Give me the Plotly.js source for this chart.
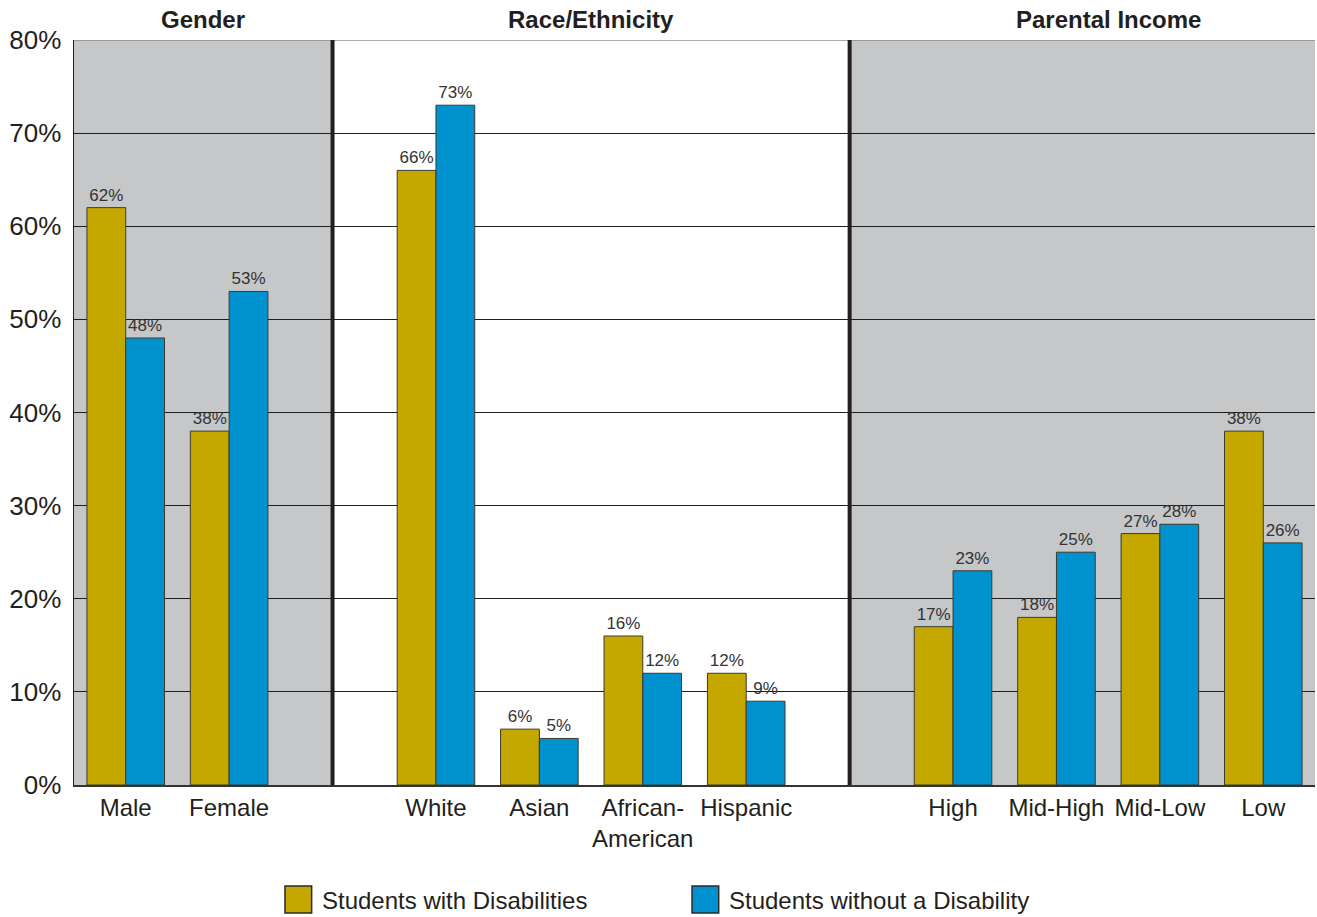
<!DOCTYPE html>
<html>
<head>
<meta charset="utf-8">
<script src="https://cdn.plot.ly/plotly-3.0.1.min.js"></script>
<style>
  html, body { margin: 0; padding: 0; background: #ffffff; }
  #chart { width: 1317px; height: 917px; }
</style>
</head>
<body>
<div id="chart"></div>
<script>
// Category slots along the x axis; empty slots (2 and 7) separate the three groups.
const categorySlots = [0, 1, 3, 4, 5, 6, 8, 9, 10, 11];
const categoryLabels = ['Male', 'Female', 'White', 'Asian', 'African-<br>American', 'Hispanic',
                        'High', 'Mid-High', 'Mid-Low', 'Low'];

// Percent of students in each category
const withDisabilities    = [62, 38, 66, 6, 16, 12, 17, 18, 27, 38];
const withoutDisability   = [48, 53, 73, 5, 12, 9, 23, 25, 28, 26];

const seriesNames = ['Students with Disabilities', 'Students without a Disability'];

// Group headings and their centre positions on the x axis
const groupTitles = ['Gender', 'Race/Ethnicity', 'Parental Income'];
const groupTitleX = [0.75, 4.5, 9.5];

// Shaded group panels and dividers (x-axis units)
const shadedPanels = [[-0.5, 2], [7, 11.5]];
const dividers = [2, 7];

const GOLD = '#C4A800';
const BLUE = '#0092CE';
const PANEL = '#C6C7C9';
const FONT = 'Liberation Sans, Arial, Helvetica, sans-serif';

function barTrace(name, values, color) {
  return {
    type: 'bar',
    name: name,
    x: categorySlots,
    y: values,
    marker: { color: color, line: { color: '#3b3a2c', width: 1 } },
    text: values.map(v => v + '%'),
    textposition: 'outside',
    textfont: { family: FONT, size: 17, color: '#333333' },
    constraintext: 'none',
    cliponaxis: false,
    hoverinfo: 'skip'
  };
}

const traces = [
  barTrace(seriesNames[0], withDisabilities, GOLD),
  barTrace(seriesNames[1], withoutDisability, BLUE)
];

const shapes = [];
shadedPanels.forEach(([x0, x1]) => {
  shapes.push({
    type: 'rect', layer: 'below', xref: 'x', yref: 'y',
    x0: x0, x1: x1, y0: 0, y1: 80,
    fillcolor: PANEL, line: { width: 0 }
  });
});
// top frame line
shapes.push({
  type: 'line', layer: 'above', xref: 'paper', yref: 'y',
  x0: 0, x1: 1, y0: 80, y1: 80,
  line: { color: '#8c8c8c', width: 1.5 }
});
dividers.forEach(x => {
  shapes.push({
    type: 'line', layer: 'above', xref: 'x', yref: 'y',
    x0: x, x1: x, y0: 0, y1: 80,
    line: { color: '#231F20', width: 4 }
  });
});

// Legend swatches drawn below the plot area
const legendItems = [
  { name: seriesNames[0], color: GOLD, x0: 0.170, x1: 0.1915, tx: 0.198 },
  { name: seriesNames[1], color: BLUE, x0: 0.498, x1: 0.5195, tx: 0.526 }
];
const annotations = [];
legendItems.forEach(it => {
  shapes.push({
    type: 'rect', xref: 'paper', yref: 'paper',
    x0: it.x0, x1: it.x1, y0: -0.1356, y1: -0.1718,
    fillcolor: it.color, line: { color: '#2a2a2a', width: 1.5 }
  });
  annotations.push({
    xref: 'paper', yref: 'paper', x: it.tx, y: -0.1545,
    xanchor: 'left', yanchor: 'middle', showarrow: false,
    text: it.name, font: { family: FONT, size: 24, color: '#231F20' }
  });
});

groupTitles.forEach((t, i) => {
  annotations.push({
    xref: 'x', yref: 'paper', x: groupTitleX[i], y: 1.027,
    xanchor: 'center', yanchor: 'middle', showarrow: false,
    text: '<b>' + t + '</b>', font: { family: FONT, size: 24, color: '#231F20' }
  });
});

const layout = {
  width: 1317,
  height: 917,
  margin: { l: 74, r: 2, t: 40, b: 132, pad: 0 },
  paper_bgcolor: '#ffffff',
  plot_bgcolor: '#ffffff',
  font: { family: FONT, color: '#231F20' },
  showlegend: false,
  barmode: 'group',
  bargap: 0.25,
  bargroupgap: 0,
  xaxis: {
    range: [-0.5, 11.5],
    tickmode: 'array',
    tickvals: categorySlots,
    ticktext: categoryLabels,
    tickfont: { family: FONT, size: 24, color: '#231F20' },
    showgrid: false,
    zeroline: false,
    showline: true,
    linecolor: '#333333',
    linewidth: 2,
    ticks: '',
    ticklabelstandoff: 0,
    fixedrange: true
  },
  yaxis: {
    range: [0, 80],
    tickmode: 'linear',
    tick0: 0,
    dtick: 10,
    ticksuffix: '%',
    tickfont: { family: FONT, size: 26, color: '#231F20' },
    showgrid: true,
    gridcolor: '#1e1e1e',
    gridwidth: 1,
    zeroline: false,
    showline: true,
    linecolor: '#231F20',
    linewidth: 1.5,
    ticks: '',
    ticklabelstandoff: 6,
    fixedrange: true
  },
  shapes: shapes,
  annotations: annotations
};

Plotly.newPlot('chart', traces, layout, { staticPlot: true, displayModeBar: false });
</script>
</body>
</html>
